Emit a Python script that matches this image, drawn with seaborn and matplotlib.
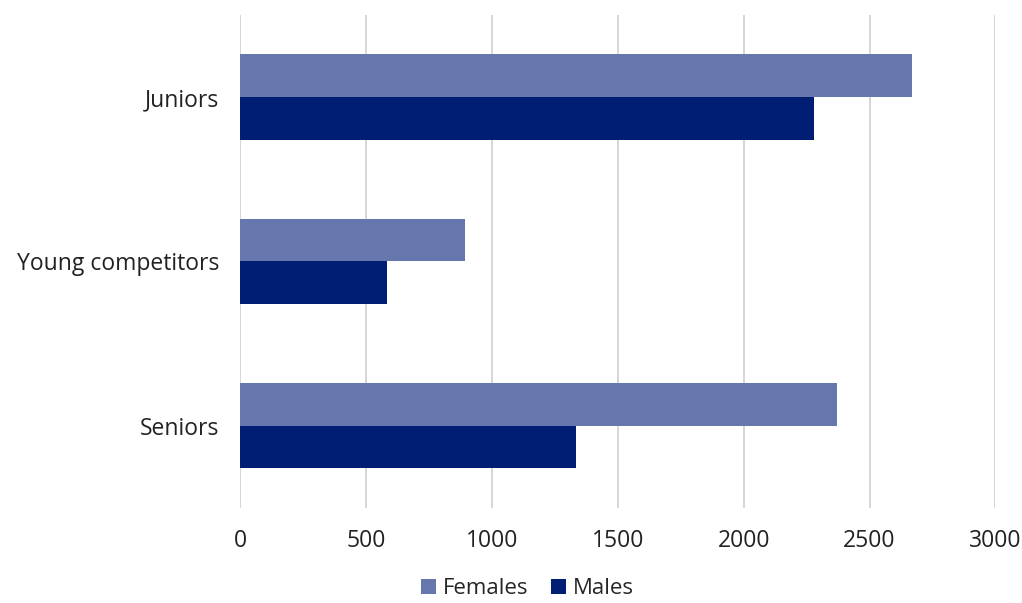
import pandas as pd
import seaborn as sns
import matplotlib.pyplot as plt

categories = ['Juniors', 'Young competitors', 'Seniors']
females = [2670, 895, 2370]
males = [2280, 585, 1335]

df = pd.DataFrame({
    'category': categories * 2,
    'value': females + males,
    'sex': ['Females'] * 3 + ['Males'] * 3,
})

sns.set_style('white')
plt.rcParams['font.family'] = ['Open Sans', 'DejaVu Sans']

fig = plt.figure(figsize=(10.22, 6.03), dpi=100)
ax = fig.add_axes([0.235, 0.158, 0.739, 0.817])

sns.barplot(data=df, y='category', x='value', hue='sex', orient='h',
            palette={'Females': '#6677ad', 'Males': '#001e73'},
            width=0.52, ax=ax, saturation=1, linewidth=0)

ax.set_xlim(0, 3000)
ax.set_ylim(2.5, -0.5)
ax.set_xticks(range(0, 3001, 500))
ax.xaxis.grid(True, color='#d0d0d0', linewidth=1.2)
ax.set_axisbelow(True)
for s in ax.spines.values():
    s.set_visible(False)
ax.set_xlabel('')
ax.set_ylabel('')
ax.tick_params(axis='both', length=0, labelsize=16.5, colors='#222222')
ax.tick_params(axis='y', pad=15)
ax.tick_params(axis='x', pad=15)

ax.legend(loc='upper center', bbox_to_anchor=(0.38, -0.143), ncol=2, frameon=False,
          fontsize=16, handlelength=0.7, handleheight=0.7, handletextpad=0.3,
          columnspacing=1.0, borderaxespad=0, borderpad=0)

fig.savefig('out.png', dpi=100)
